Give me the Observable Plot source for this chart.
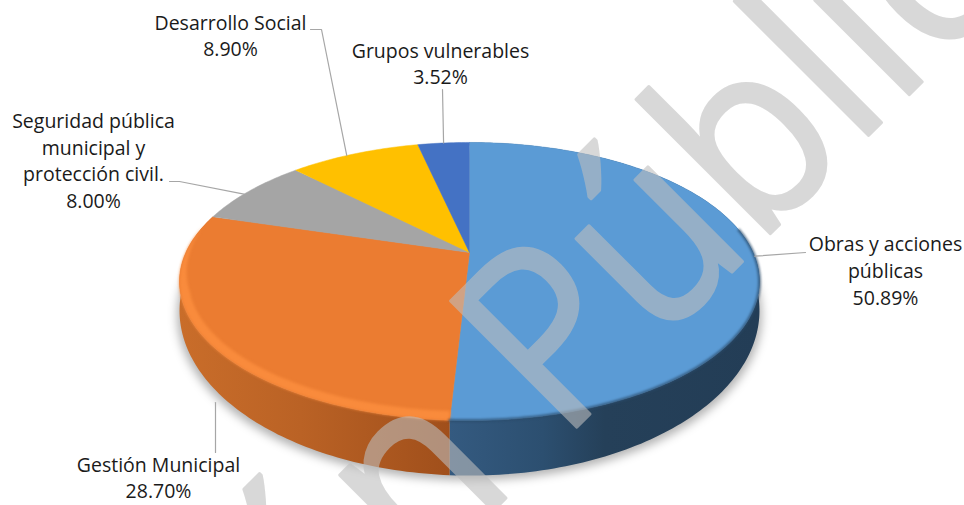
<!DOCTYPE html>
<html><head><meta charset="utf-8">
<style>html,body{margin:0;padding:0;background:#fff}svg{display:block}</style>
<script src="https://cdn.jsdelivr.net/npm/d3@7"></script>
<script src="https://cdn.jsdelivr.net/npm/@observablehq/plot@0.6"></script>
</head><body><div id="chart"></div>
<script>
// Data
const names = ["Obras y acciones públicas","Gestión Municipal","Seguridad pública municipal y protección civil.","Desarrollo Social","Grupos vulnerables"];
const shares = [50.89,28.70,8.00,8.90,3.52];
const labelLines = ["Obras y acciones\npúblicas","Gestión Municipal","Seguridad pública\nmunicipal y\nprotección civil.","Desarrollo Social","Grupos vulnerables"];
const colors = ["#5B9BD5","#EB7C31","#A5A5A5","#FFC000","#4472C4"];
const watermark = "Versión Pública";

// Layout (pixels) of the pie projection and label placement
const cx=469, cy=252, B=283.6, A=133, k=0.2086;
const topCy=281, topRy=139, baseCy=310, baseRy=165;
const labelX = [885,158,93,230,440];
const labelY = [269,476,159,34,62];
const elbows = [[[805,252]],[[215,452],[215,402]],[[169,181],[179,181]],[[310,29],[321,29]],[[442,89]]];
const leaderShift = [0,0,-2,-2,0];
const watermarkSqueeze = 0.91;

const ux=p=>(p-cx)/B, uy=p=>(cy-p)/A;
// perspective projection of a circle point at angle t (deg, clockwise from top)
function proj(t){const r=t*Math.PI/180,w=1+k*Math.cos(r);return [Math.sin(r)/w,Math.cos(r)/w];}
// the lower edge of the side wall is a larger ellipse than the top rim
const toBase=y=>uy(baseCy)+(y-uy(topCy))*baseRy/topRy;
const total=d3.sum(shares);
const cum=d3.cumsum(shares).map(v=>v/total*360);
const starts=[0,...cum.slice(0,-1)], ends=cum;
function arc(a,b,step=1){const n=Math.max(2,Math.ceil((b-a)/step)),o=[];for(let i=0;i<=n;i++)o.push(proj(a+(b-a)*i/n));return o;}

const faces=names.flatMap((name,i)=>[[0,0],...arc(starts[i],ends[i])].map(([x,y])=>({name,x,y})));
const wall=(a,b)=>{const r=arc(a,b);return [...r.map(([x,y])=>({x,y})),...r.reverse().map(([x,y])=>({x,y:toBase(y)}))];};
const wall0=wall(starts[0],ends[0]), wall1=wall(starts[1],ends[1]);
const shadow=arc(0,360).map(([x,y])=>({x:x*1.008,y:toBase(y)-0.035}));
const bevel=(()=>{
  const a=starts[1],b=ends[1]-4,n=100,outer=[],inner=[];
  for(let i=0;i<=n;i++){const t=a+(b-a)*i/n,[x,y]=proj(t),f=Math.min(1,(b-t)/30);
    outer.push({x,y});inner.push({x:x*(1-0.032*f),y:y*(1-0.055*f)});}
  return [...outer,...inner.reverse()];
})();
const rimDark=arc(80,ends[0]).map(([x,y])=>({x,y}));
const leaders=names.flatMap((name,i)=>{
  const pts=elbows[i].map(([px,py])=>({name,x:ux(px),y:uy(py)}));
  if(i===1) return pts;
  const [x,y]=proj((starts[i]+ends[i])/2+leaderShift[i]);
  return [...pts,{name,x,y}];
});
const labels=names.map((name,i)=>({text:labelLines[i]+"\n"+shares[i].toFixed(2)+"%",x:ux(labelX[i]),y:uy(labelY[i])}));

function defs(){
  const d=d3.create("svg:defs");
  const g=(id,stops)=>{const l=d.append("linearGradient").attr("id",id).attr("x1",0).attr("x2",1).attr("y1",0).attr("y2",0);
    stops.forEach(([o,c])=>l.append("stop").attr("offset",o).attr("stop-color",c));};
  g("wallBlue",[[0,"#345A80"],[0.3,"#2C4F70"],[0.5,"#254059"],[1,"#233D56"]]);
  g("wallOrange",[[0,"#C96D2A"],[0.45,"#BA6225"],[1,"#A04F1B"]]);
  return d.node();
}

const chart=Plot.plot({
  width:964,height:505,margin:0,
  style:{background:"#fff"},
  x:{domain:[-1,1],range:[cx-B,cx+B],axis:null},
  y:{domain:[-1,1],range:[cy+A,cy-A],axis:null},
  color:{domain:names,range:colors},
  marks:[
    defs,
    Plot.line(shadow,{x:"x",y:"y",fill:"#000",fillOpacity:0.3,stroke:"none",imageFilter:"blur(5px)"}),
    Plot.line(wall0,{x:"x",y:"y",fill:"url(#wallBlue)",stroke:"none"}),
    Plot.line(wall1,{x:"x",y:"y",fill:"url(#wallOrange)",stroke:"none"}),
    Plot.line(faces,{x:"x",y:"y",z:"name",fill:"name",stroke:"name",strokeWidth:0.5}),
    Plot.line(bevel,{x:"x",y:"y",fill:"#F98B3C",stroke:"none",imageFilter:"blur(1.8px)"}),
    Plot.line(rimDark,{x:"x",y:"y",stroke:"#2A4A6A",strokeWidth:3,strokeOpacity:0.7,imageFilter:"blur(1.2px)"}),
    Plot.line(leaders,{x:"x",y:"y",z:"name",stroke:"#A6A6A6",strokeWidth:1.2}),
    Plot.text(labels,{x:"x",y:"y",text:"text",fontFamily:"Open Sans",fontSize:19.5,lineHeight:1.36,fill:"#1a1a1a",textAnchor:"middle"}),
    Plot.text([watermark],{x:[ux(-46)],y:[uy(1049)],text:d=>d,rotate:-45,textAnchor:"start",fontFamily:"Open Sans",fontSize:250,lineAnchor:"bottom",fill:"rgb(190,190,190)",stroke:"rgb(190,190,190)",strokeWidth:3,opacity:0.59,className:"wm"})
  ]
});
document.getElementById("chart").append(chart);
// narrow the watermark's glyphs to the reference's proportions
const wm=chart.querySelector("g.wm text");
if(wm){wm.setAttribute("lengthAdjust","spacingAndGlyphs");wm.setAttribute("textLength",wm.getComputedTextLength()*watermarkSqueeze);}
</script></body></html>
